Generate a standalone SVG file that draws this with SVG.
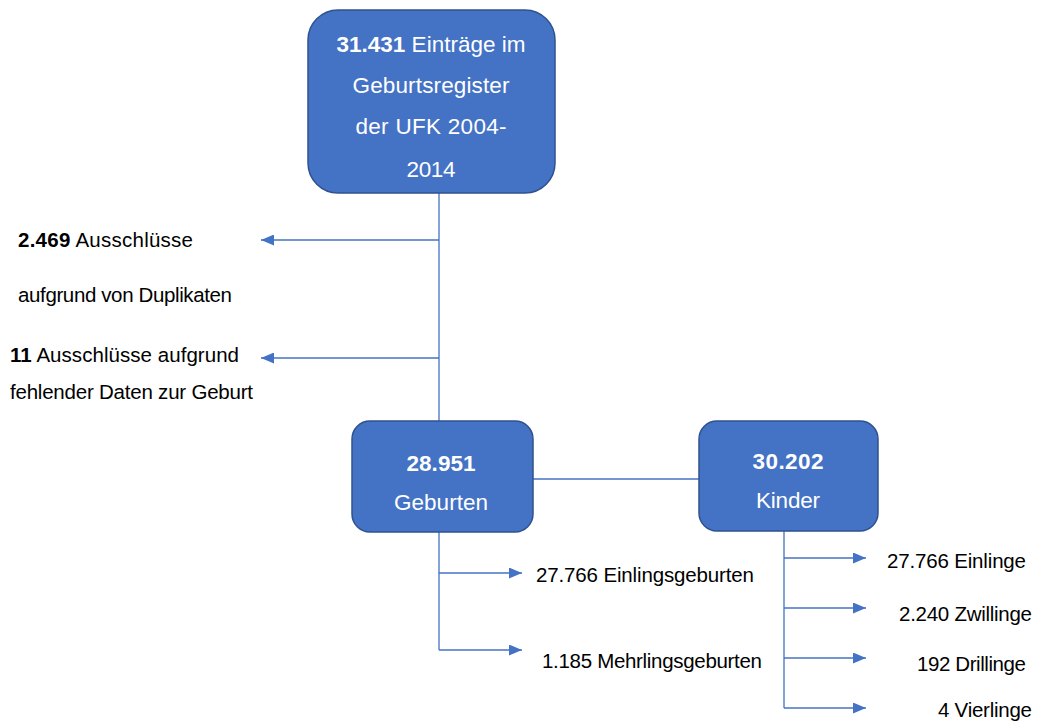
<svg xmlns="http://www.w3.org/2000/svg" width="1038" height="722" viewBox="0 0 1038 722">
<style>
.box{fill:#4472C4;stroke:#2F528F;stroke-width:1.5}
.wt{font-family:"Liberation Sans",Arial,sans-serif;fill:#fff;text-anchor:middle;font-size:22.5px}
.bt{font-family:"Liberation Sans",Arial,sans-serif;fill:#000;font-size:20.5px}
.ln{stroke:#4472C4;stroke-width:1.3;fill:none}
</style>
<defs>
<marker id="ah" viewBox="0 0 13 11" refX="13" refY="5.5" markerWidth="13" markerHeight="11" markerUnits="userSpaceOnUse" orient="auto">
<path d="M0,0 L13,5.5 L0,11 Z" fill="#4472C4"/>
</marker>
</defs>
<rect width="1038" height="722" fill="#fff"/>
<g id="connectors">
<line class="ln" x1="439" y1="193" x2="439" y2="421"/>
<line class="ln" x1="439" y1="240" x2="261" y2="240" marker-end="url(#ah)"/>
<line class="ln" x1="439" y1="358" x2="261" y2="358" marker-end="url(#ah)"/>
<line class="ln" x1="533" y1="479" x2="699" y2="479"/>
<line class="ln" x1="439" y1="532" x2="439" y2="650"/>
<line class="ln" x1="439" y1="573" x2="522" y2="573" marker-end="url(#ah)"/>
<line class="ln" x1="439" y1="650" x2="522" y2="650" marker-end="url(#ah)"/>
<line class="ln" x1="784" y1="531" x2="784" y2="708"/>
<line class="ln" x1="784" y1="558" x2="866" y2="558" marker-end="url(#ah)"/>
<line class="ln" x1="784" y1="608" x2="866" y2="608" marker-end="url(#ah)"/>
<line class="ln" x1="784" y1="658" x2="866" y2="658" marker-end="url(#ah)"/>
<line class="ln" x1="784" y1="708" x2="866" y2="708" marker-end="url(#ah)"/>
</g>
<g id="node-top">
<rect class="box" x="308" y="10" width="247" height="183" rx="30"/>
<text class="wt" x="431" y="52" textLength="189"><tspan font-weight="bold">31.431</tspan> Einträge im</text>
<text class="wt" x="431" y="93" textLength="157">Geburtsregister</text>
<text class="wt" x="431" y="134" textLength="151">der UFK 2004-</text>
<text class="wt" x="431" y="177" textLength="49">2014</text>
</g>
<g id="node-geburten">
<rect class="box" x="352" y="421" width="181" height="111" rx="18"/>
<text class="wt" x="441" y="471" font-weight="bold" textLength="69">28.951</text>
<text class="wt" x="441" y="510" textLength="94">Geburten</text>
</g>
<g id="node-kinder">
<rect class="box" x="699" y="421" width="179" height="110" rx="18"/>
<text class="wt" x="788" y="469" font-weight="bold" textLength="71">30.202</text>
<text class="wt" x="788" y="508" textLength="64">Kinder</text>
</g>
<g id="label-duplikate">
<text class="bt" x="18" y="247" textLength="175"><tspan font-weight="bold">2.469</tspan> Ausschlüsse</text>
<text class="bt" x="18" y="302" textLength="214">aufgrund von Duplikaten</text>
</g>
<g id="label-fehlend">
<text class="bt" x="10" y="362" textLength="229"><tspan font-weight="bold">11</tspan> Ausschlüsse aufgrund</text>
<text class="bt" x="10" y="399" textLength="243">fehlender Daten zur Geburt</text>
</g>
<g id="label-einlingsgeburten"><text class="bt" x="536" y="582" textLength="218">27.766 Einlingsgeburten</text></g>
<g id="label-mehrlingsgeburten"><text class="bt" x="542" y="668" textLength="220">1.185 Mehrlingsgeburten</text></g>
<g id="label-einlinge"><text class="bt" x="887" y="568" textLength="139">27.766 Einlinge</text></g>
<g id="label-zwillinge"><text class="bt" x="899" y="621" textLength="133">2.240 Zwillinge</text></g>
<g id="label-drillinge"><text class="bt" x="917" y="671" textLength="109">192 Drillinge</text></g>
<g id="label-vierlinge"><text class="bt" x="938" y="717" textLength="94">4 Vierlinge</text></g>
</svg>
